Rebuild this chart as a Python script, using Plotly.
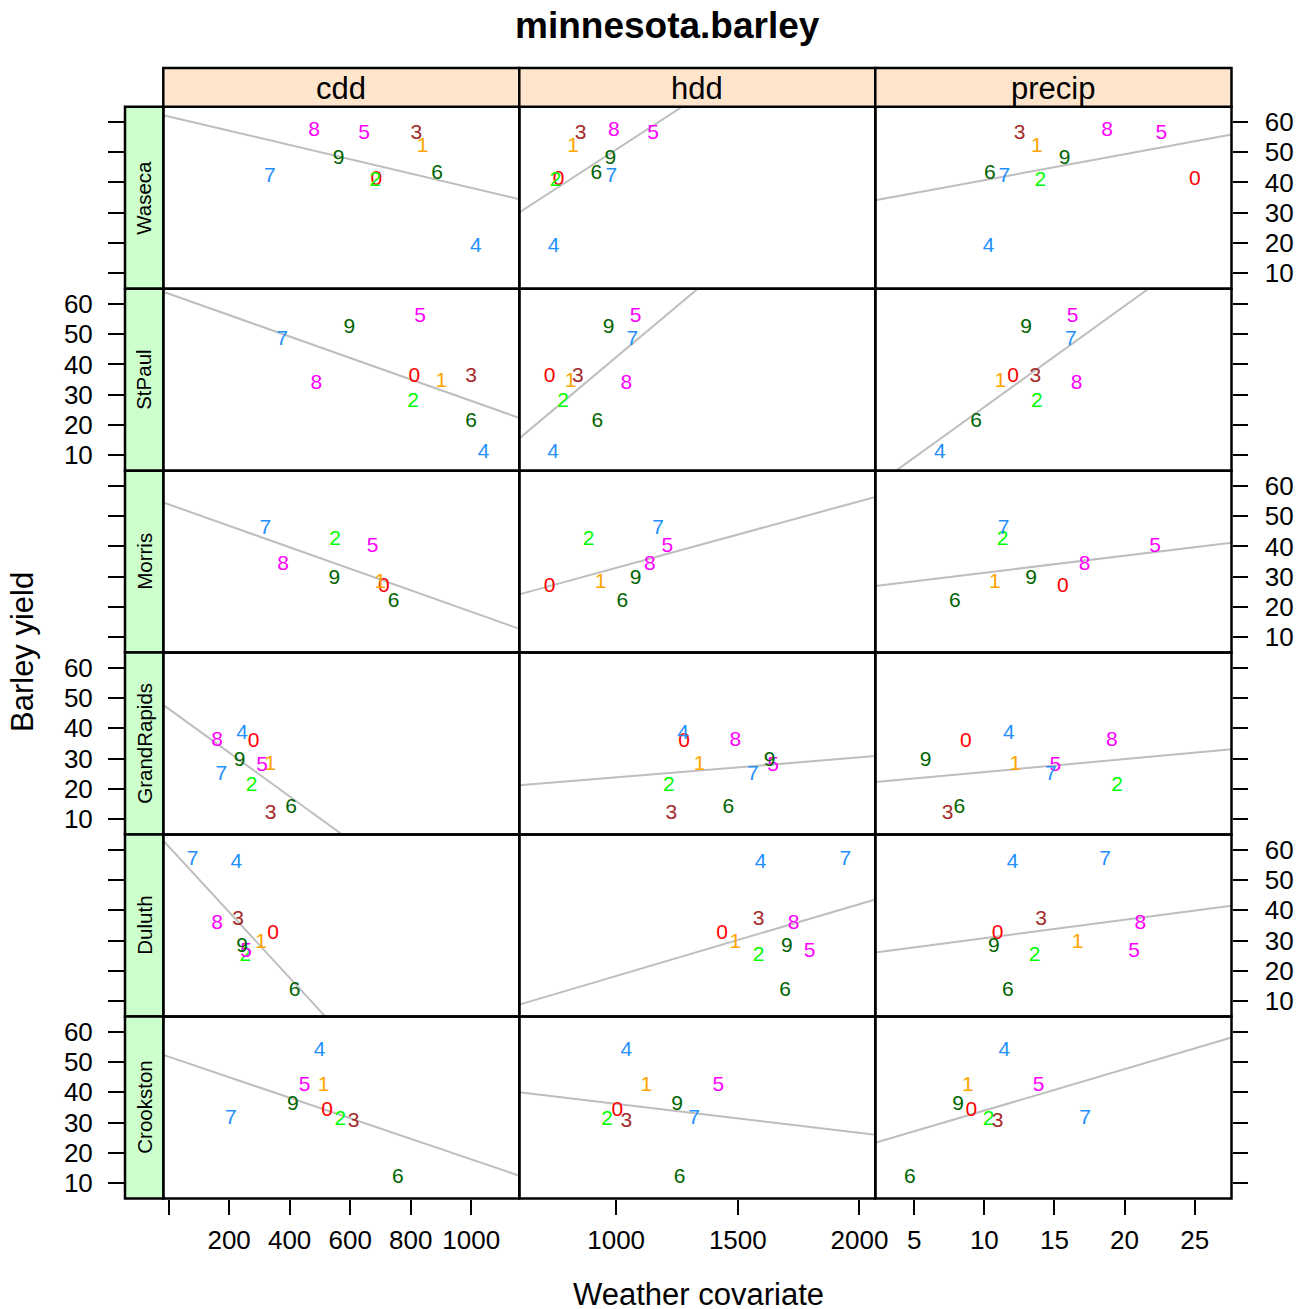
import numpy as np
import plotly.graph_objects as go

W, H = 1302, 1309
FONT = "Liberation Sans, Arial, Helvetica, sans-serif"

sites = ["Waseca", "StPaul", "Morris", "GrandRapids", "Duluth", "Crookston"]
covariates = ["cdd", "hdd", "precip"]
year_labels = ["0", "1", "2", "3", "4", "5", "6", "7", "8", "9"]
year_colors = ["#FF0000", "#FFA500", "#00FF00", "#A52A2A", "#1E90FF",
               "#FF00FF", "#006400", "#1E90FF", "#FF00FF", "#006400"]

# barley yield per site, indexed by year label 0..9 (None = missing)
yield_by_site = [
    [40.8, 51.8, 40.5, 56.25, 18.8, 56.25, 42.8, 41.9, 57.1, 48.0],     # Waseca
    [36.0, 34.3, 27.7, 35.8, 10.9, 55.8, 21.0, 48.3, 33.6, 52.2],       # StPaul
    [26.7, 27.85, 42.15, None, None, 39.85, 21.7, 45.9, 33.8, 29.15],   # Morris
    [35.55, 27.95, 21.0, 11.65, 38.1, 27.6, 13.85, 24.55, 35.8, 29.4],  # GrandRapids
    [32.25, 29.15, 24.95, 36.85, 55.6, 26.4, 13.5, 56.7, 35.45, 27.85], # Duluth
    [34.0, 42.15, 30.9, 30.15, 53.8, 42.15, 11.65, 31.35, None, 35.85], # Crookston
]

cdd_by_site = [
    [686.6, 839.7, 683, 819, 1015, 646, 887, 335, 480.7, 562],
    [812, 901.5, 808, 1000, 1041, 831, 1000, 375, 488, 597],
    [711, 700, 550, None, None, 674.5, 744, 319.7, 378, 548],
    [281, 336, 274.5, 337, 242.6, 308.7, 404.6, 174, 160, 234.7],
    [345, 305.5, 253.5, 229.4, 224, 256, 416.6, 79, 160, 242.6],
    [523.6, 512.4, 567.6, 611.6, 499, 449.6, 758, 206, None, 411],
]

hdd_by_site = [
    [764, 823, 751.4, 854, 743, 1151.6, 918.7, 980, 991, 976],
    [726.8, 813, 782, 843, 741, 1080, 923, 1066.5, 1042, 969],
    [727, 936, 887, None, None, 1210, 1025, 1172, 1138, 1080],
    [1279, 1343, 1217, 1227, 1275, 1645, 1461, 1562, 1490, 1631],
    [1435, 1490, 1585.5, 1585.5, 1593.7, 1795, 1694, 1941.6, 1729, 1702],
    [1005, 1124, 962.6, 1042, 1042, 1420, 1261, 1320, None, 1251],
]

precip_by_site = [
    [25.02, 13.75, 13.99, 12.52, 10.31, 22.63, 10.39, 11.43, 18.76, 15.72],
    [12.05, 11.14, 13.75, 13.64, 6.83, 16.29, 9.41, 16.17, 16.58, 12.97],
    [15.6, 10.74, 11.31, None, None, 22.18, 7.9, 11.38, 17.15, 13.33],
    [8.68, 12.21, 19.47, 7.37, 11.74, 15.06, 8.22, 14.75, 19.09, 5.8],
    [10.95, 16.65, 13.59, 14.04, 12.02, 20.68, 11.67, 18.62, 21.13, 10.67],
    [9.08, 8.82, 10.31, 10.95, 11.43, 13.87, 4.69, 17.19, None, 8.13],
]

x_ranges = [[-17.5, 1159], [602, 2065], [2.22, 27.63]]
y_range = [4.9, 65.05]
x_tickvals = [[0, 200, 400, 600, 800, 1000], [1000, 1500, 2000], [5, 10, 15, 20, 25]]
x_ticktext = [["", "200", "400", "600", "800", "1000"], ["1000", "1500", "2000"],
              ["5", "10", "15", "20", "25"]]
y_tickvals = [10, 20, 30, 40, 50, 60]

cov_data = [cdd_by_site, hdd_by_site, precip_by_site]

# layout geometry (pixels)
col_edges = [163.3, 519.3, 875.3, 1231.5]
row_top = 106.7
row_h = 181.97
strip_top = 68.0
left_strip_x0 = 125.0


def px2x(px):
    return px / W


def py2y(py):
    return 1 - py / H


fig = go.Figure()
layout = dict(
    width=W, height=H, autosize=False,
    margin=dict(l=0, r=0, t=0, b=0, pad=0),
    paper_bgcolor="white", plot_bgcolor="white",
    showlegend=False, hovermode=False,
    font=dict(family=FONT, color="black"),
)
shapes = []
annotations = []

for r, site in enumerate(sites):
    for c, cov in enumerate(covariates):
        idx = r * 3 + c + 1
        sx = "" if idx == 1 else str(idx)
        xname, yname = "x" + sx, "y" + sx
        xs, ys, labs, cols = [], [], [], []
        for k, lab in enumerate(year_labels):
            xv = cov_data[c][r][k]
            yv = yield_by_site[r][k]
            if xv is None or yv is None:
                continue
            xs.append(xv); ys.append(yv); labs.append(lab); cols.append(year_colors[k])
        slope, intercept = np.polyfit(np.array(xs, float), np.array(ys, float), 1)
        lx = np.array(x_ranges[c], float)
        fig.add_trace(go.Scatter(
            x=lx, y=intercept + slope * lx, mode="lines",
            line=dict(color="#BEBEBE", width=2),
            xaxis=xname, yaxis=yname, hoverinfo="skip"))
        fig.add_trace(go.Scatter(
            x=xs, y=ys, mode="text", text=labs,
            textposition="middle center",
            textfont=dict(family=FONT, size=21, color=cols),
            xaxis=xname, yaxis=yname, hoverinfo="skip", cliponaxis=False))

        xa = dict(
            domain=[px2x(col_edges[c]), px2x(col_edges[c + 1])],
            range=x_ranges[c], anchor=yname, automargin=False,
            showgrid=False, zeroline=False, showline=False,
        )
        if r == len(sites) - 1:
            xa.update(ticks="outside", ticklen=15, tickwidth=2, tickcolor="black",
                      tickmode="array", tickvals=x_tickvals[c], ticktext=x_ticktext[c],
                      tickfont=dict(family=FONT, size=26, color="black"),
                      ticklabelstandoff=3, showticklabels=True)
        else:
            xa.update(ticks="", showticklabels=False)
        ya = dict(
            domain=[py2y(row_top + (r + 1) * row_h), py2y(row_top + r * row_h)],
            range=y_range, automargin=False,
            showgrid=False, zeroline=False, showline=False,
            tickmode="array", tickvals=y_tickvals,
            tickfont=dict(family=FONT, size=26, color="black"),
        )
        if c == 0:
            ya.update(anchor="free", position=px2x(left_strip_x0), side="left",
                      ticks="outside", ticklen=17, tickwidth=2, tickcolor="black",
                      showticklabels=(r % 2 == 1), ticklabelstandoff=10)
        elif c == 2:
            ya.update(anchor=xname, side="right",
                      ticks="outside", ticklen=15, tickwidth=2, tickcolor="black",
                      showticklabels=(r % 2 == 0), ticklabelstandoff=12)
        else:
            ya.update(anchor=xname, ticks="", showticklabels=False)
        layout["xaxis" + sx] = xa
        layout["yaxis" + sx] = ya

        shapes.append(dict(type="rect", xref=xname + " domain", yref=yname + " domain",
                           x0=0, x1=1, y0=0, y1=1, line=dict(color="black", width=2.5),
                           fillcolor="rgba(0,0,0,0)", layer="above"))

    # left strip
    y0p = row_top + r * row_h
    y1p = row_top + (r + 1) * row_h
    shapes.append(dict(type="rect", xref="paper", yref="paper",
                       x0=px2x(left_strip_x0), x1=px2x(col_edges[0]),
                       y0=py2y(y1p), y1=py2y(y0p),
                       fillcolor="#CCFFCC", line=dict(color="black", width=2.5), layer="above"))
    annotations.append(dict(text=site, x=px2x((left_strip_x0 + col_edges[0]) / 2),
                            y=py2y((y0p + y1p) / 2), xref="paper", yref="paper",
                            showarrow=False, textangle=-90, xanchor="center", yanchor="middle",
                            font=dict(family=FONT, size=20.5, color="black")))

# top strips
for c, cov in enumerate(covariates):
    shapes.append(dict(type="rect", xref="paper", yref="paper",
                       x0=px2x(col_edges[c]), x1=px2x(col_edges[c + 1]),
                       y0=py2y(row_top), y1=py2y(strip_top),
                       fillcolor="#FFE5CC", line=dict(color="black", width=2.5), layer="above"))
    annotations.append(dict(text=cov, x=px2x((col_edges[c] + col_edges[c + 1]) / 2),
                            y=py2y((strip_top + row_top) / 2 + 1), xref="paper", yref="paper",
                            showarrow=False, xanchor="center", yanchor="middle",
                            font=dict(family=FONT, size=31, color="black")))

annotations.append(dict(text="<b>minnesota.barley</b>", x=px2x(667), y=py2y(25),
                        xref="paper", yref="paper", showarrow=False,
                        xanchor="center", yanchor="middle",
                        font=dict(family=FONT, size=37, color="black")))
annotations.append(dict(text="Barley yield", x=px2x(22), y=py2y(652), xref="paper", yref="paper",
                        showarrow=False, textangle=-90, xanchor="center", yanchor="middle",
                        font=dict(family=FONT, size=31, color="black")))
annotations.append(dict(text="Weather covariate", x=px2x(698), y=py2y(1294), xref="paper",
                        yref="paper", showarrow=False, xanchor="center", yanchor="middle",
                        font=dict(family=FONT, size=31, color="black")))

layout["shapes"] = shapes
layout["annotations"] = annotations
fig.update_layout(**layout)

fig.write_html("out.html", config={"displayModeBar": False},
               post_script="document.body.style.margin='0';document.body.style.overflow='hidden';")
